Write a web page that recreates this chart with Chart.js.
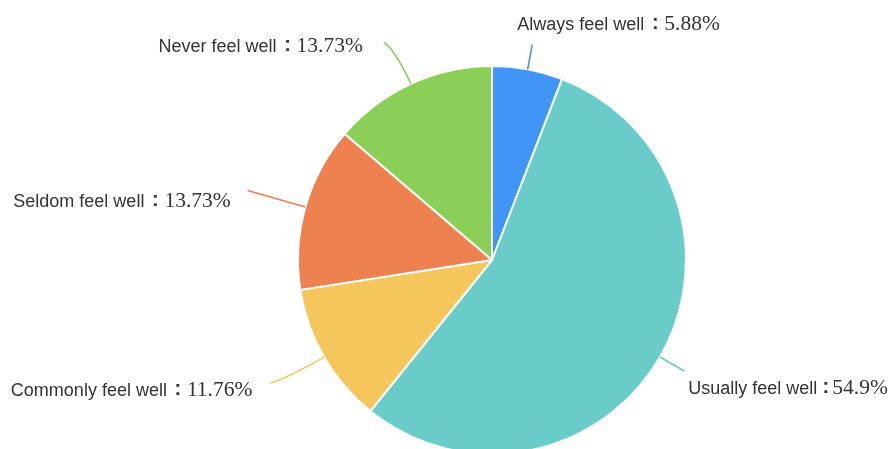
<!DOCTYPE html>
<html>
<head>
<meta charset="utf-8">
<script src="https://cdn.jsdelivr.net/npm/chart.js@4.4.1/dist/chart.umd.min.js"></script>
<style>
  html, body { margin: 0; padding: 0; background: #fff; overflow: hidden; }
  #wrap { width: 892px; height: 520px; }
</style>
</head>
<body>
<div id="wrap"><canvas id="myChart" width="892" height="520"></canvas></div>
<script>
const categories = ['Always feel well', 'Usually feel well', 'Commonly feel well', 'Seldom feel well', 'Never feel well'];
const percents = [5.88, 54.9, 11.76, 13.73, 13.73];
const percentLabels = ['5.88%', '54.9%', '11.76%', '13.73%', '13.73%'];
const colors = ['#4095f6', '#69ccc8', '#f5c65b', '#ee8150', '#8ccf58'];

// leader line look: radial length, optional bend, then where the text sits
const lineStyle = [
    { len: 25, bend: [0, 0], align: 'left', dx: -15, dy: -15, gap: 20 },
    { len: 28, bend: [0, 0], align: 'left', dx: 4, dy: 23, gap: 15 },
    { len: 40, bend: [-19, 6], align: 'right', dx: -18, dy: 13, gap: 20 },
    { len: 60, bend: [0, 0], align: 'right', dx: -17, dy: 16, gap: 20 },
    { len: 36, bend: [-12, -9], align: 'right', dx: -21, dy: 10, gap: 20 }
];

const nameFont = '18px "Liberation Sans", Arial, sans-serif';
const colonFont = 'bold 20px "Liberation Sans", Arial, sans-serif';
const numFont = '21.5px "Liberation Serif", "Times New Roman", serif';

const leaderLabels = {
    id: 'leaderLabels',
    afterDatasetsDraw(chart) {
        const ctx = chart.ctx;
        const arcs = chart.getDatasetMeta(0).data;
        arcs.forEach((arc, i) => {
            const p = arc.getProps(['x', 'y', 'startAngle', 'endAngle', 'outerRadius'], true);
            const mid = (p.startAngle + p.endAngle) / 2;
            const cos = Math.cos(mid), sin = Math.sin(mid);
            const st = lineStyle[i];
            const x0 = p.x + cos * p.outerRadius;
            const y0 = p.y + sin * p.outerRadius;
            const x1 = p.x + cos * (p.outerRadius + st.len);
            const y1 = p.y + sin * (p.outerRadius + st.len);
            const x2 = x1 + st.bend[0];
            const y2 = y1 + st.bend[1];

            ctx.save();
            ctx.strokeStyle = colors[i];
            ctx.lineWidth = 1.6;
            ctx.beginPath();
            ctx.moveTo(x0, y0);
            if (st.bend[0] || st.bend[1]) {
                ctx.quadraticCurveTo(x1, y1, x2, y2);
            } else {
                ctx.lineTo(x1, y1);
            }
            ctx.stroke();

            // label: name + colon + number
            ctx.fillStyle = '#333';
            ctx.textBaseline = 'alphabetic';
            ctx.font = nameFont;
            const w1 = ctx.measureText(categories[i]).width;
            ctx.font = numFont;
            const w3 = ctx.measureText(percentLabels[i]).width;
            const total = w1 + st.gap + w3;
            let tx = x2 + st.dx;
            if (st.align === 'right') tx -= total;
            const ty = y2 + st.dy;
            ctx.textAlign = 'left';
            ctx.font = nameFont;
            ctx.fillText(categories[i], tx, ty);
            ctx.textAlign = 'center';
            ctx.font = colonFont;
            ctx.fillText(':', tx + w1 + st.gap / 2 + 1, ty - 1);
            ctx.textAlign = 'left';
            ctx.font = numFont;
            ctx.fillText(percentLabels[i], tx + w1 + st.gap, ty);
            ctx.restore();
        });
    }
};

const chart = new Chart(document.getElementById('myChart').getContext('2d'), {
    type: 'pie',
    data: {
        labels: categories,
        datasets: [{
            data: percents,
            backgroundColor: colors,
            borderColor: '#ffffff',
            borderWidth: 2
        }]
    },
    options: {
        responsive: false,
        animation: false,
        layout: {
            padding: { top: 65, bottom: 65, left: 297, right: 205 }
        },
        plugins: {
            legend: { display: false },
            tooltip: { enabled: false }
        }
    },
    plugins: [leaderLabels]
});
</script>
</body>
</html>
